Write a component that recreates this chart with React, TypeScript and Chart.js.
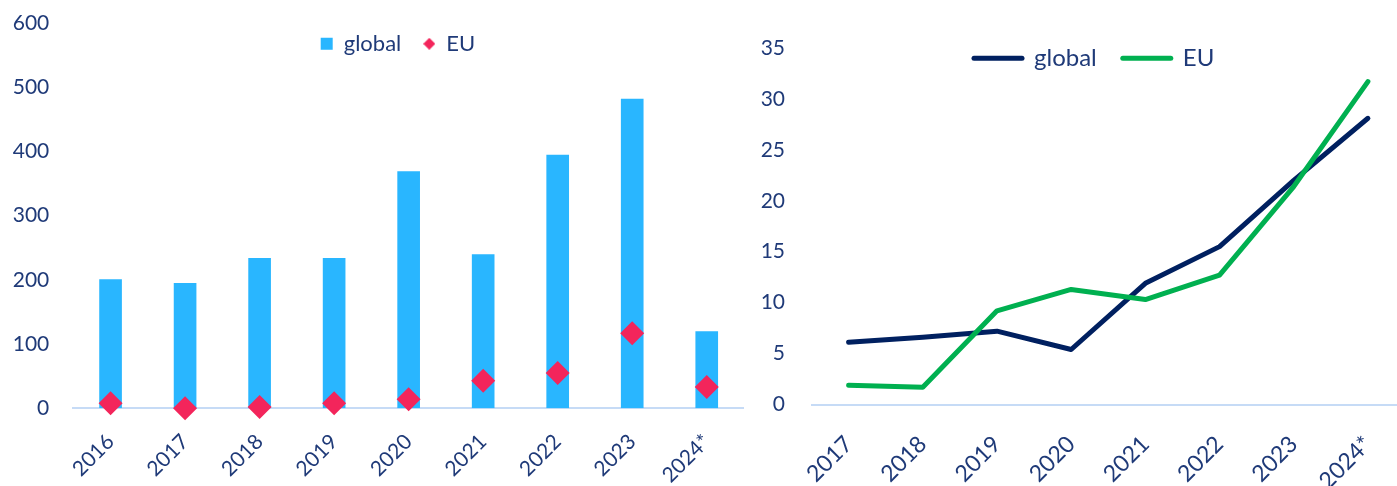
import React, { useEffect, useRef } from 'react';
import { Chart, registerables } from 'chart.js';

Chart.register(...registerables);

// ---------- data ----------
const barCategories = ['2016', '2017', '2018', '2019', '2020', '2021', '2022', '2023', '2024*'];
const barGlobal = [201, 195, 234, 234, 369, 240, 395, 482, 120];
const barEU = [8, 0, 2, 8, 14, 43, 55, 117, 33];
const barTickValues = [0, 100, 200, 300, 400, 500, 600];

const lineCategories = ['2017', '2018', '2019', '2020', '2021', '2022', '2023', '2024*'];
const lineGlobal = [6.1, 6.6, 7.2, 5.4, 11.9, 15.5, 22.0, 28.1];
const lineEU = [1.9, 1.7, 9.2, 11.3, 10.3, 12.7, 21.4, 31.7];
const lineTickValues = [0, 5, 10, 15, 20, 25, 30, 35];

const seriesLabels = ['global', 'EU'];

// ---------- styles ----------
const TEXT = '#1F3A78';
const BAR = '#29B6FF';
const DIAMOND = '#F3255B';
const AXIS = '#C6DBF6';
const NAVY = '#002060';
const GREEN = '#00B050';
const FONT = 'Lato, "Open Sans", sans-serif';

function placeLegend(left: number, top: number, height: number) {
  return {
    id: 'placeLegend',
    afterLayout(chart: any) {
      const lg = chart.legend;
      if (!lg) return;
      lg.left = left;
      lg.right = chart.width;
      lg.width = lg.right - lg.left;
      lg.top = top;
      lg.bottom = top + height;
      lg.height = height;
    },
  };
}

function diamondImage(size: number, color: string) {
  const c = document.createElement('canvas');
  c.width = size;
  c.height = size;
  const ctx = c.getContext('2d')!;
  ctx.fillStyle = color;
  ctx.beginPath();
  ctx.moveTo(size / 2, 0);
  ctx.lineTo(size, size / 2);
  ctx.lineTo(size / 2, size);
  ctx.lineTo(0, size / 2);
  ctx.closePath();
  ctx.fill();
  return c;
}

const fixX = (h: number) => (s: any) => {
  s.height = h;
  s.paddingLeft = 0;
  s.paddingRight = 0;
};
const fixY = (w: number) => (s: any) => {
  s.width = w;
  s.paddingTop = 10;
  s.paddingBottom = 10;
};

function BarChart() {
  const ref = useRef<HTMLCanvasElement>(null);
  useEffect(() => {
    const legendFont = 22;
    const legendPad = 22;
    const chart = new Chart(ref.current!, {
      type: 'bar',
      data: {
        labels: barCategories,
        datasets: [
          {
            type: 'bar',
            label: seriesLabels[0],
            data: barGlobal,
            backgroundColor: BAR,
            borderWidth: 0,
            barPercentage: 0.304,
            categoryPercentage: 1,
            order: 1,
          } as any,
          {
            type: 'line',
            label: seriesLabels[1],
            data: barEU,
            showLine: false,
            clip: false,
            pointStyle: 'rectRot',
            pointRadius: 12,
            pointHoverRadius: 12,
            pointBackgroundColor: DIAMOND,
            pointBorderColor: DIAMOND,
            pointBorderWidth: 0,
            backgroundColor: DIAMOND,
            borderColor: DIAMOND,
            order: 0,
          } as any,
        ],
      },
      options: {
        animation: false,
        responsive: false,
        events: [],
        layout: { autoPadding: false, padding: { top: 22, left: 0, right: 0, bottom: 0 } },
        plugins: {
          tooltip: { enabled: false },
          legend: {
            display: true,
            position: 'top',
            align: 'start',
            maxHeight: 1,
            labels: {
              usePointStyle: true,
              boxWidth: 12,
              boxHeight: 12,
              padding: legendPad,
              color: TEXT,
              font: { family: FONT, size: legendFont },
              generateLabels: () => [
                {
                  text: seriesLabels[0],
                  fillStyle: BAR,
                  strokeStyle: BAR,
                  lineWidth: 0,
                  pointStyle: 'rect',
                  fontColor: TEXT,
                  hidden: false,
                  datasetIndex: 0,
                },
                {
                  text: seriesLabels[1],
                  fillStyle: DIAMOND,
                  strokeStyle: DIAMOND,
                  lineWidth: 0,
                  pointStyle: diamondImage(12, DIAMOND),
                  fontColor: TEXT,
                  hidden: false,
                  datasetIndex: 1,
                },
              ] as any,
            },
          },
        },
        scales: {
          x: {
            type: 'category',
            offset: true,
            grid: { display: false, drawTicks: false },
            border: { display: true, color: AXIS, width: 2 },
            ticks: {
              color: TEXT,
              font: { family: FONT, size: 21 },
              maxRotation: 45,
              minRotation: 45,
              autoSkip: false,
              padding: 21,
            },
            afterFit: fixX(77.7),
          },
          y: {
            min: 0,
            max: 600,
            afterBuildTicks: (s: any) => {
              s.ticks = barTickValues.map((v) => ({ value: v }));
            },
            grid: { display: false, drawTicks: false },
            border: { display: false },
            ticks: { color: TEXT, font: { family: FONT, size: 21 }, padding: 24 },
            afterFit: fixY(73.3),
          },
        },
      },
      plugins: [placeLegend(320.7 - legendPad, 43.8 - legendPad - legendFont / 2, 60)],
    });
    return () => chart.destroy();
  }, []);
  return (
    <canvas
      ref={ref}
      width={744}
      height={486}
      style={{ position: 'absolute', left: 0, top: 0, width: 744, height: 486 }}
    />
  );
}

function LineChart() {
  const ref = useRef<HTMLCanvasElement>(null);
  useEffect(() => {
    const legendFont = 24;
    const legendPad = 26;
    const chart = new Chart(ref.current!, {
      type: 'line',
      data: {
        labels: lineCategories,
        datasets: [
          {
            label: seriesLabels[0],
            data: lineGlobal,
            borderColor: NAVY,
            backgroundColor: NAVY,
            borderWidth: 5,
            borderCapStyle: 'round',
            borderJoinStyle: 'round',
            pointRadius: 0,
            pointHoverRadius: 0,
            tension: 0,
            fill: false,
            clip: false,
            order: 1,
          } as any,
          {
            label: seriesLabels[1],
            data: lineEU,
            borderColor: GREEN,
            backgroundColor: GREEN,
            borderWidth: 5,
            borderCapStyle: 'round',
            borderJoinStyle: 'round',
            pointRadius: 0,
            pointHoverRadius: 0,
            tension: 0,
            fill: false,
            clip: false,
            order: 0,
          } as any,
        ],
      },
      options: {
        animation: false,
        responsive: false,
        events: [],
        layout: { autoPadding: false, padding: { top: 47, left: 0, right: 0, bottom: 0 } },
        plugins: {
          tooltip: { enabled: false },
          legend: {
            display: true,
            position: 'top',
            align: 'start',
            maxHeight: 1,
            labels: {
              usePointStyle: true,
              pointStyleWidth: 48,
              boxHeight: 12,
              padding: legendPad,
              color: TEXT,
              font: { family: FONT, size: legendFont },
              generateLabels: () => [
                {
                  text: seriesLabels[0],
                  fillStyle: NAVY,
                  strokeStyle: NAVY,
                  lineWidth: 5,
                  lineCap: 'round',
                  pointStyle: 'line',
                  fontColor: TEXT,
                  hidden: false,
                  datasetIndex: 0,
                },
                {
                  text: seriesLabels[1],
                  fillStyle: GREEN,
                  strokeStyle: GREEN,
                  lineWidth: 5,
                  lineCap: 'round',
                  pointStyle: 'line',
                  fontColor: TEXT,
                  hidden: false,
                  datasetIndex: 1,
                },
              ] as any,
            },
          },
        },
        scales: {
          x: {
            type: 'category',
            offset: true,
            grid: { display: false, drawTicks: false },
            border: { display: true, color: AXIS, width: 2 },
            ticks: {
              color: TEXT,
              font: { family: FONT, size: 23 },
              maxRotation: 45,
              minRotation: 45,
              autoSkip: false,
              padding: 26,
            },
            afterFit: fixX(81.5),
          },
          y: {
            min: 0,
            max: 35,
            afterBuildTicks: (s: any) => {
              s.ticks = lineTickValues.map((v) => ({ value: v }));
            },
            grid: { display: false, drawTicks: false },
            border: { display: false },
            ticks: { color: TEXT, font: { family: FONT, size: 21 }, padding: 26.5 },
            afterFit: fixY(61.5),
          },
        },
      },
      plugins: [placeLegend(224 - legendPad, 58.3 - legendPad - legendFont / 2, 70)],
    });
    return () => chart.destroy();
  }, []);
  return (
    <canvas
      ref={ref}
      width={655}
      height={486}
      style={{ position: 'absolute', left: 750, top: 0, width: 655, height: 486 }}
    />
  );
}

export default function App() {
  return (
    <div
      style={{
        position: 'fixed',
        left: 0,
        top: 0,
        width: 1397,
        height: 486,
        overflow: 'hidden',
        background: '#ffffff',
      }}
    >
      <BarChart />
      <LineChart />
    </div>
  );
}
